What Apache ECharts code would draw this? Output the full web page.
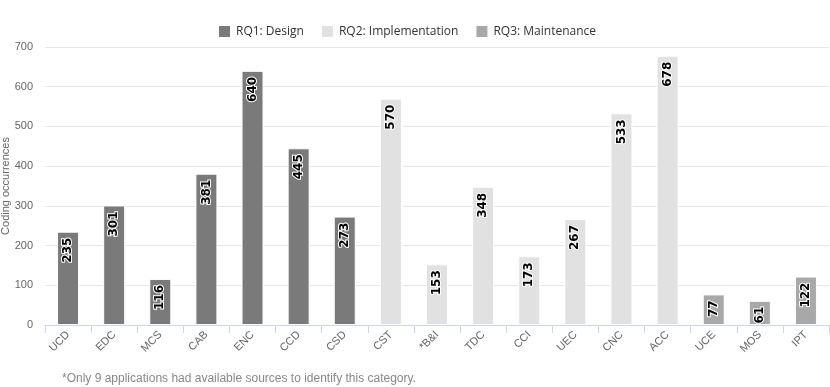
<!DOCTYPE html>
<html>
<head>
<meta charset="utf-8">
<script src="https://cdn.jsdelivr.net/npm/echarts@6/dist/echarts.min.js"></script>
<style>
  html, body { margin: 0; padding: 0; background: #fff; }
  #chart { width: 830px; height: 387px; }
</style>
</head>
<body>
<div id="chart"></div>
<script>
"use strict";

// 分类（横轴）
const categories = ["UCD", "EDC", "MCS", "CAB", "ENC", "CCD", "CSD", "CST", "*B&I",
  "TDC", "CCI", "UEC", "CNC", "ACC", "UCE", "MOS", "IPT"];

// 各组数值，非本组为 null
const designValues = [235, 301, 116, 381, 640, 445, 273, null, null,
  null, null, null, null, null, null, null, null];
const implementationValues = [null, null, null, null, null, null, null, 570, 153,
  348, 173, 267, 533, 678, null, null, null];
const maintenanceValues = [null, null, null, null, null, null, null, null, null,
  null, null, null, null, null, 77, 61, 122];

const seriesNames = ["RQ1: Design", "RQ2: Implementation", "RQ3: Maintenance"];
const colorList = ["#7a7a7a", "#e1e1e1", "#a8a8a8"];

const chart = echarts.init(document.getElementById("chart"));

const makeSeries = (name, data, color) => ({
  name,
  type: "bar",
  stack: "all",
  barWidth: 22,
  data,
  itemStyle: { color, borderColor: "#ffffff", borderWidth: 1 },
  label: {
    show: true,
    position: "insideTop",
    rotate: 90,
    align: "right",
    verticalAlign: "middle",
    distance: 6,
    color: "#000",
    fontWeight: "bold",
    fontSize: 12,
    fontFamily: "DejaVu Sans",
    textBorderColor: "#ffffff",
    textBorderWidth: 2,
  },
  animation: false,
});

chart.setOption({
  animation: false,
  legend: {
    top: 19,
    left: 212,
    itemWidth: 13,
    itemHeight: 13,
    itemGap: 16,
    icon: "rect",
    textStyle: { color: "#333", fontSize: 12, fontFamily: "Open Sans" },
    data: seriesNames,
  },
  grid: { left: 45, right: 1, top: 47, bottom: 62, containLabel: false, outerBoundsMode: "none" },
  xAxis: {
    type: "category",
    data: categories,
    axisLine: { lineStyle: { color: "#ccd6eb" } },
    axisTick: { show: true, lineStyle: { color: "#ccd6eb" }, length: 8 },
    axisLabel: {
      rotate: 45,
      color: "#666",
      fontSize: 11,
      fontFamily: "Liberation Sans",
      margin: 8,
      interval: 0,
    },
  },
  yAxis: {
    type: "value",
    min: 0,
    max: 700,
    interval: 100,
    axisLabel: { color: "#666", fontSize: 11, fontFamily: "Liberation Sans", margin: 12 },
    splitLine: { lineStyle: { color: "#e6e6e6" } },
    axisLine: { show: false },
    axisTick: { show: false },
  },
  series: [
    makeSeries(seriesNames[0], designValues, colorList[0]),
    makeSeries(seriesNames[1], implementationValues, colorList[1]),
    makeSeries(seriesNames[2], maintenanceValues, colorList[2]),
  ],
  graphic: [
    {
      // 纵轴标题
      type: "text",
      x: 6,
      y: 186,
      rotation: Math.PI / 2,
      style: {
        text: "Coding occurrences",
        fill: "#666",
        font: "11px Liberation Sans",
        align: "center",
        verticalAlign: "middle",
      },
    },
    {
      // 脚注
      type: "text",
      left: 62,
      top: 373,
      style: {
        text: "*Only 9 applications had available sources to identify this category.",
        fill: "#888",
        font: "12px Liberation Sans",
      },
    },
  ],
});
</script>
</body>
</html>
